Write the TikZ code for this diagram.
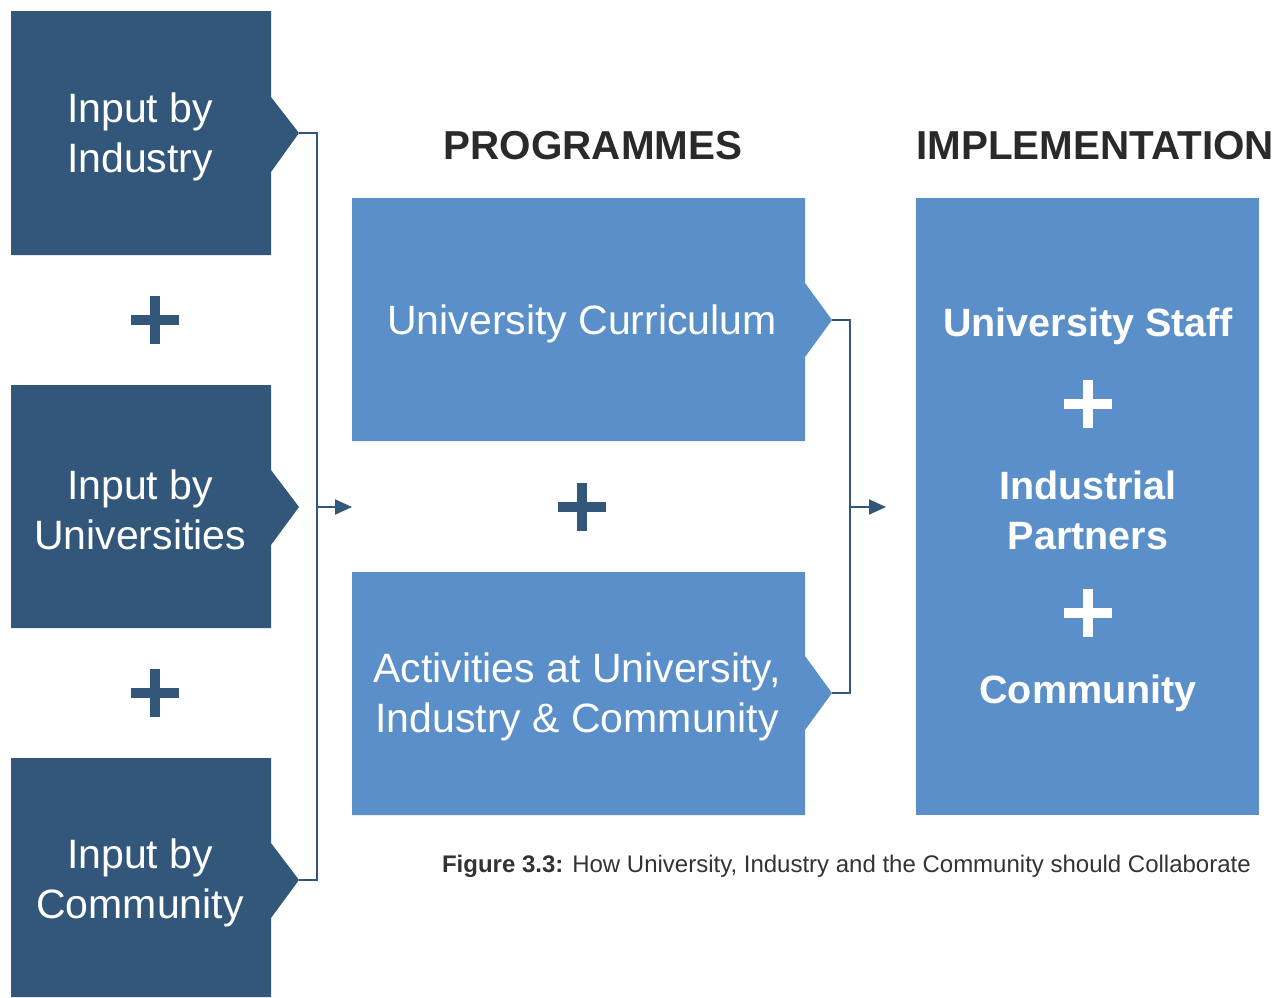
\documentclass[tikz,border=0pt]{standalone}
\usepackage{fontspec}
\setmainfont{Liberation Sans}
\usetikzlibrary{arrows.meta}
\definecolor{darkblue}{HTML}{33577B}
\definecolor{lightblue}{HTML}{5B8FC9}
\definecolor{headgray}{HTML}{2A2A2A}
\definecolor{capgray}{HTML}{333333}
\tikzset{
  darkbox/.style={fill=darkblue},
  lightbox/.style={fill=lightblue},
  boxtext/.style={text=white, align=center, font=\fontsize{41}{50}\selectfont, inner sep=0pt},
  righttext/.style={text=white, align=center, font=\bfseries\fontsize{39.5}{50}\selectfont, inner sep=0pt},
  headtext/.style={text=headgray, font=\bfseries\fontsize{40.4}{48}\selectfont, inner sep=0pt},
  connector/.style={draw=darkblue, line width=2pt},
  arrowline/.style={draw=darkblue, line width=2pt, -{Triangle[length=17pt,width=15pt]}},
  plussign/.pic={\fill (-24,-5) rectangle (24,5); \fill (-5,-24) rectangle (5,24);}
}
\begin{document}
\begin{tikzpicture}[x=1pt,y=-1pt]
\useasboundingbox[fill=white] (0,0) rectangle (1285,997);
% left boxes
\fill[darkbox] (11,11) -- (271,11) -- (271,97) -- (299,133) -- (271,172) -- (271,255) -- (11,255) -- cycle;
\fill[darkbox] (11,385) -- (271,385) -- (271,470) -- (299,507) -- (271,545) -- (271,628) -- (11,628) -- cycle;
\fill[darkbox] (11,758) -- (271,758) -- (271,843) -- (299,880) -- (271,918) -- (271,997) -- (11,997) -- cycle;
\coordinate (t1) at (299,133);
\coordinate (t2) at (299,507);
\coordinate (t3) at (299,880);
\node[boxtext] (ind) at (140,137) {Input by\\Industry};
\node[boxtext] (uni) at (140,510) {Input by\\Universities};
\node[boxtext] (com) at (140,883) {Input by\\Community};
\pic[fill=darkblue] at (155,320) {plussign};
\pic[fill=darkblue] at (155,693) {plussign};
% middle boxes
\fill[lightbox] (352,198) -- (805,198) -- (805,283) -- (832,320) -- (805,357) -- (805,441) -- (352,441) -- cycle;
\fill[lightbox] (352,572) -- (805,572) -- (805,656) -- (832,693) -- (805,730) -- (805,815) -- (352,815) -- cycle;
\coordinate (m1) at (832,320);
\coordinate (m2) at (832,693);
\node[boxtext] (cur) at (582,324) {University Curriculum};
\node[boxtext] (act) at (577,697) {Activities at University,\\Industry \& Community};
\pic[fill=darkblue] at (582,507) {plussign};
\node[headtext] (prog) at (593,146) {PROGRAMMES};
% right box
\fill[lightbox] (916,198) rectangle (1259,815);
\node[headtext] (impl) at (1095,146) {IMPLEMENTATION};
\node[righttext] (staff) at (1088,326) {University Staff};
\pic[fill=white] at (1088,404) {plussign};
\node[righttext] (partners) at (1088,510) {Industrial\\Partners};
\pic[fill=white] at (1088,613) {plussign};
\node[righttext] (commty) at (1088,693) {Community};
% connectors
\coordinate (b1top) at (317,133);
\coordinate (b1bot) at (317,880);
\coordinate (b1mid) at (317,507);
\coordinate (prin) at (352,507);
\draw[connector] (t1) -- (b1top) -- (b1bot) -- (t3);
\draw[arrowline] (b1mid) -- (prin);
\coordinate (b2top) at (850,320);
\coordinate (b2bot) at (850,693);
\coordinate (b2mid) at (850,507);
\coordinate (impin) at (886,507);
\draw[connector] (m1) -- (b2top) -- (b2bot) -- (m2);
\draw[arrowline] (b2mid) -- (impin);
% caption
\node[text=capgray, anchor=east, font=\fontsize{24}{28}\selectfont, inner sep=0pt] (cap) at (1251,866) {\textbf{Figure 3.3:} How University, Industry and the Community should Collaborate};
\end{tikzpicture}
\end{document}
